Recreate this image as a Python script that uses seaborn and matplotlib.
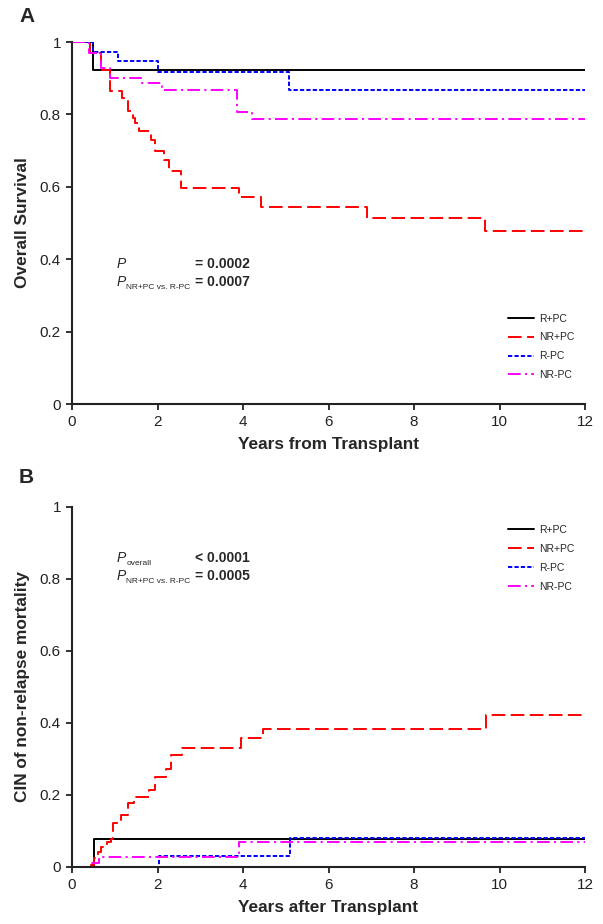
import numpy as np
import pandas as pd
import matplotlib
matplotlib.use('Agg')
import matplotlib.pyplot as plt
import seaborn as sns

# Panel A - overall survival (step values start at each time point)
a_rpc_t = [0, 0.48, 12]
a_rpc_s = [1, 0.923, 0.923]
a_nrpc_t = [0, 0.42, 0.68, 0.89, 1.18, 1.30, 1.42, 1.48, 1.57, 1.85, 1.93, 2.16, 2.28, 2.55, 3.91, 4.42, 6.91, 9.65, 12]
a_nrpc_s = [1, 0.970, 0.923, 0.864, 0.845, 0.810, 0.790, 0.775, 0.753, 0.730, 0.700, 0.675, 0.643, 0.596, 0.573, 0.545, 0.513, 0.478, 0.478]
a_rmpc_t = [0, 0.48, 1.07, 2.0, 5.07, 12]
a_rmpc_s = [1, 0.973, 0.947, 0.917, 0.867, 0.867]
a_nrmpc_t = [0, 0.40, 0.68, 0.90, 1.61, 2.10, 3.87, 4.22, 12]
a_nrmpc_s = [1, 0.970, 0.927, 0.900, 0.886, 0.867, 0.807, 0.787, 0.787]

# Panel B - cumulative incidence of non-relapse mortality
b_rpc_t = [0, 0.52, 12]
b_rpc_c = [0, 0.077, 0.077]
b_nrpc_t = [0, 0.44, 0.52, 0.60, 0.68, 0.83, 0.91, 0.95, 1.15, 1.30, 1.46, 1.81, 1.93, 2.20, 2.32, 2.57, 3.95, 4.46, 9.68, 12]
b_nrpc_c = [0, 0.006, 0.024, 0.043, 0.056, 0.070, 0.078, 0.122, 0.144, 0.177, 0.195, 0.214, 0.251, 0.273, 0.311, 0.330, 0.357, 0.383, 0.422, 0.422]
b_rmpc_t = [0, 2.03, 5.10, 12]
b_rmpc_c = [0, 0.030, 0.080, 0.080]
b_nrmpc_t = [0, 0.44, 0.62, 3.91, 12]
b_nrmpc_c = [0, 0.012, 0.027, 0.069, 0.069]

groups = ['R+PC', 'NR+PC', 'R-PC', 'NR-PC']
colors = {'R+PC': 'black', 'NR+PC': '#ff0000', 'R-PC': '#0000ff', 'NR-PC': '#ff00ff'}
dash_styles = {'R+PC': '', 'NR+PC': (7, 2.8), 'R-PC': (2.2, 1.1), 'NR-PC': (6.5, 2.2, 1.1, 2.2)}


def make_frame(series):
    rows = []
    for g, (t, v) in zip(groups, series):
        for ti, vi in zip(t, v):
            rows.append({'time': ti, 'value': vi, 'group': g})
    return pd.DataFrame(rows)


df_a = make_frame([(a_rpc_t, a_rpc_s), (a_nrpc_t, a_nrpc_s), (a_rmpc_t, a_rmpc_s), (a_nrmpc_t, a_nrmpc_s)])
df_b = make_frame([(b_rpc_t, b_rpc_c), (b_nrpc_t, b_nrpc_c), (b_rmpc_t, b_rmpc_c), (b_nrmpc_t, b_nrmpc_c)])

sns.set_style('ticks')
plt.rcParams['font.family'] = ['Liberation Sans', 'DejaVu Sans']

W, H = 603, 924
fig = plt.figure(figsize=(W / 100, H / 100), dpi=100)
ax_a = fig.add_axes([72 / W, 1 - 404 / H, 513 / W, 362 / H])
ax_b = fig.add_axes([72 / W, 1 - 867 / H, 513 / W, 360 / H])


def draw(ax, df, ylabel, xlabel, leg_top):
    sns.lineplot(data=df, x='time', y='value', hue='group', style='group',
                 hue_order=groups, style_order=groups, palette=colors,
                 dashes=dash_styles, drawstyle='steps-post', linewidth=1.4,
                 estimator=None, sort=False, ax=ax)
    ax.set_xlim(0, 12)
    ax.set_ylim(0, 1)
    ax.set_xticks(np.arange(0, 13, 2))
    ax.set_yticks([0, 0.2, 0.4, 0.6, 0.8, 1])
    ax.set_yticklabels(['0', '0.2', '0.4', '0.6', '0.8', '1'])
    ax.tick_params(direction='out', length=4, width=1.3, labelsize=11, colors='#222222', pad=4)
    for s in ['left', 'bottom']:
        ax.spines[s].set_linewidth(1.5)
        ax.spines[s].set_color('#222222')
    sns.despine(ax=ax)
    ax.set_ylabel(ylabel, fontsize=12.4, fontweight='bold', labelpad=7)
    ax.set_xlabel(xlabel, fontsize=12.4, fontweight='bold', labelpad=6)
    ax.legend(loc='upper left', bbox_to_anchor=(0.85, leg_top), frameon=False,
              fontsize=7.5, handlelength=2.5, handletextpad=0.45,
              labelspacing=0.85, borderpad=0, borderaxespad=0)


draw(ax_a, df_a, 'Overall Survival', 'Years from Transplant', 0.25)
draw(ax_b, df_b, 'CIN of non-relapse mortality', 'Years after Transplant', 0.95)

# p-value annotations
ax_a.text(1.05, 0.375, 'P', style='italic', fontsize=10)
ax_a.text(2.87, 0.375, '= 0.0002', fontweight='bold', fontsize=10)
ax_a.text(1.05, 0.325, 'P', style='italic', fontsize=10)
ax_a.text(1.27, 0.318, 'NR+PC vs. R-PC', fontsize=6)
ax_a.text(2.87, 0.325, '= 0.0007', fontweight='bold', fontsize=10)

ax_b.text(1.05, 0.846, 'P', style='italic', fontsize=10)
ax_b.text(1.27, 0.839, 'overall', fontsize=6)
ax_b.text(2.87, 0.846, '< 0.0001', fontweight='bold', fontsize=10)
ax_b.text(1.05, 0.796, 'P', style='italic', fontsize=10)
ax_b.text(1.27, 0.789, 'NR+PC vs. R-PC', fontsize=6)
ax_b.text(2.87, 0.796, '= 0.0005', fontweight='bold', fontsize=10)

fig.text(19 / W, 1 - 17 / H, 'A', fontsize=15, fontweight='bold', va='center')
fig.text(19 / W, 1 - 478 / H, 'B', fontsize=15, fontweight='bold', va='center')

fig.savefig('out.png', dpi=100)
